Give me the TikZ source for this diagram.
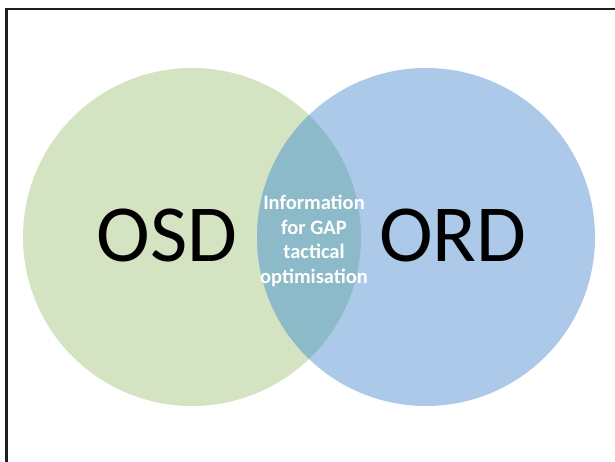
\documentclass[tikz,border=0pt]{standalone}
\usepackage{fontspec}
\setmainfont{Carlito}
\usepackage{tikz}
\usetikzlibrary{positioning}
\definecolor{osdgreen}{RGB}{212,228,195}
\definecolor{ordblue}{RGB}{172,201,233}
\definecolor{overlapteal}{RGB}{141,186,201}
\definecolor{framegrey}{RGB}{30,30,30}
\tikzstyle{setcircle} = [circle, minimum size=338pt, inner sep=0pt]
\tikzstyle{setlabel} = [font=\fontsize{81}{81}\selectfont, text=black, anchor=base]
\tikzstyle{midlabel} = [align=center, text=white, font=\fontsize{20.5}{24.5}\selectfont\bfseries]

\begin{document}
\begin{tikzpicture}[x=1pt,y=1pt]
\useasboundingbox (0,0) rectangle (615,462);
% Frame
\draw[framegrey, line width=2.2pt] (625,453) -- (6.5,453) -- (6.5,-10);

% Set circles
\node (osd) [setcircle, fill=osdgreen] at (192,225) {};
\node (ord) [setcircle, fill=ordblue] at (426,225) {};

% Overlap
\begin{scope}
\clip (osd.center) circle (169);
\fill[overlapteal] (ord.center) circle (169);
\end{scope}

% Labels
\node (osdtext) [setlabel] at (167,200) {OSD};
\node (ordtext) [setlabel] at (453,200) {ORD};
\node (gaptext) [midlabel] at (314,221) {Information\\for GAP\\tactical\\optimisation};
\end{tikzpicture}
\end{document}
